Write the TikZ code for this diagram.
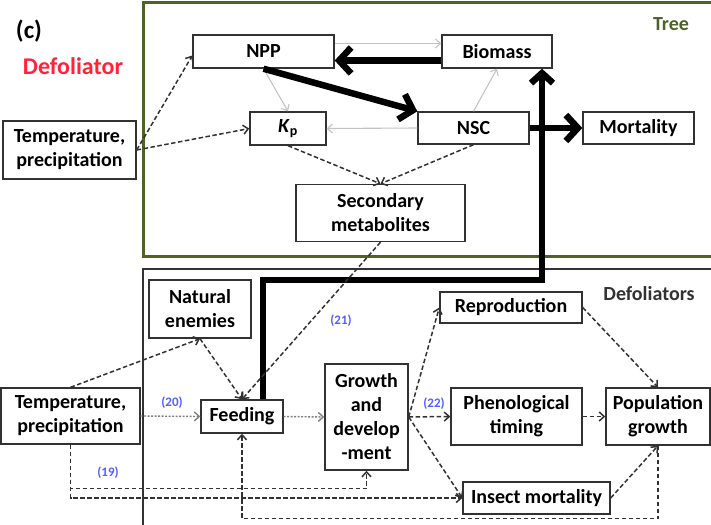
\documentclass[tikz,border=0pt]{standalone}
\usepackage{fontspec}
\setmainfont{Carlito}
\usetikzlibrary{arrows.meta}
\definecolor{treegreen}{RGB}{79,98,40}
\definecolor{numblue}{RGB}{80,95,255}
\definecolor{linkgray}{RGB}{195,195,195}
\definecolor{boxline}{RGB}{50,50,50}
\definecolor{defred}{RGB}{255,35,55}
\begin{document}
\begin{tikzpicture}[x=1pt,y=-1pt,
  font=\fontsize{20}{24}\selectfont\bfseries,
  box/.style={draw=boxline,line width=1.4pt,align=center,inner sep=0pt,fill=white},
  dasharr/.style={draw=boxline,line width=1.5pt,dash pattern=on 4.5pt off 2.5pt,-{Straight Barb[length=5pt,width=9pt]}},
  dotarr/.style={draw=gray,line width=1.4pt,dash pattern=on 2pt off 1.5pt,-{Straight Barb[length=5pt,width=9pt]}},
  grayarr/.style={draw=linkgray,line width=1.1pt,-{Straight Barb[length=5pt,width=9pt]}},
  thickarr/.style={line width=6.5pt,-{Straight Barb[length=12pt,width=26pt]}},
  numlab/.style={text=numblue,font=\fontsize{13}{15}\selectfont\bfseries}]
\useasboundingbox (0,0) rectangle (711,524);
% frames
\draw[treegreen,line width=3pt] (143,3) rectangle (714,256);
\draw[boxline,line width=1.2pt] (143,269) rectangle (714,530);
\node (tc) at (29,31) {\fontsize{25}{27}\selectfont(c)};
\node[text=defred] (tdef) at (73,66) {\fontsize{24}{26}\selectfont Defoliator};
\node[text=treegreen] (ttree) at (671,24) {Tree};
\node[text=boxline] (tdefs) at (649,294) {Defoliators};

% tree part
\node[box,minimum width=141,minimum height=33] (npp) at (263.5,51.5) {NPP};
\node[box,minimum width=110,minimum height=33] (bio) at (497,51.5) {Biomass};
\node[box,minimum width=76,minimum height=33] (kp) at (288,128.5) {\textit{K}\textsubscript{p}};
\node[box,minimum width=111,minimum height=32] (nsc) at (473.5,128) {NSC};
\node[box,minimum width=111,minimum height=32] (mort) at (638.5,128) {Mortality};
\node[box,minimum width=133,minimum height=58] (ttemp) at (69.5,150) {Temperature,\\precipitation};
\node[box,minimum width=169,minimum height=57] (sec) at (380.5,213) {Secondary\\metabolites};

\draw[dasharr] (ttemp.east) -- ([yshift=-4pt]npp.west);
\draw[dasharr] (ttemp.east) -- (kp.west);
\draw[grayarr] ([yshift=8pt]npp.east) -- ([yshift=8pt]bio.west);
\draw[grayarr] (npp.south) -- (kp.north);
\draw[grayarr] (nsc.west) -- (kp.east);
\draw[grayarr] (nsc.north) -- (bio.south);
\draw[thickarr] ([yshift=-9pt]bio.west) -- ([yshift=-9pt]npp.east);
\draw[thickarr] (npp.south) -- (nsc.north west);
\draw[thickarr] (nsc.east) -- (mort.west);
\draw[dasharr] (kp.south) -- (sec.north);
\draw[dasharr] (nsc.south) -- (sec.north);

% defoliator part
\node[box,minimum width=102,minimum height=58] (nat) at (200,309) {Natural\\enemies};
\node[box,minimum width=139,minimum height=56] (btemp) at (70.5,416) {Temperature,\\precipitation};
\node[box,minimum width=82,minimum height=33] (feed) at (242,416.5) {Feeding};
\node[box,minimum width=83,minimum height=106] (grow) at (366.5,417) {Growth\\and\\develop\\-ment};
\node[box,minimum width=142,minimum height=31] (repro) at (511,307.5) {Reproduction};
\node[box,minimum width=131,minimum height=57] (phen) at (516.5,416.5) {Phenological\\timing};
\node[box,minimum width=104,minimum height=57] (pop) at (658,416.5) {Population\\growth};
\node[box,minimum width=147,minimum height=32] (imort) at (536.5,498) {Insect mortality};

\coordinate (turn) at (542,280);
\draw[thickarr,-{Straight Barb[length=10pt,width=22pt]}] ([xshift=21pt]feed.north) |- (turn) -- (turn |- bio.south);
\draw[dasharr] (sec.south) -- (feed.north);
\draw[dasharr] (btemp.north) -- (nat.south);
\draw[dasharr] (nat.south) -- (feed.north);
\draw[dotarr] (btemp.east) -- (feed.west);
\draw[dotarr] (feed.east) -- (grow.west);
\draw[dasharr] (grow.east) -- (repro.west);
\draw[dasharr] (grow.east) -- (phen.west);
\draw[dasharr] (grow.east) -- (imort.west);
\draw[dasharr] (repro.east) -- (pop.north);
\draw[dasharr] (phen.east) -- (pop.west);
\draw[dasharr] (imort.east) -- (pop.south);
\draw[dasharr] (btemp.south) |- (imort.west);
\draw[dasharr] (btemp.south) -- ++(0,44) -| (grow.south);
\draw[dasharr] (pop.south) -- ++(0,73) -| (feed.south);

\node[numlab] (n19) at (108,473) {(19)};
\node[numlab] (n20) at (172,403) {(20)};
\node[numlab] (n21) at (341,321) {(21)};
\node[numlab] (n22) at (434,404) {(22)};
\end{tikzpicture}
\end{document}
